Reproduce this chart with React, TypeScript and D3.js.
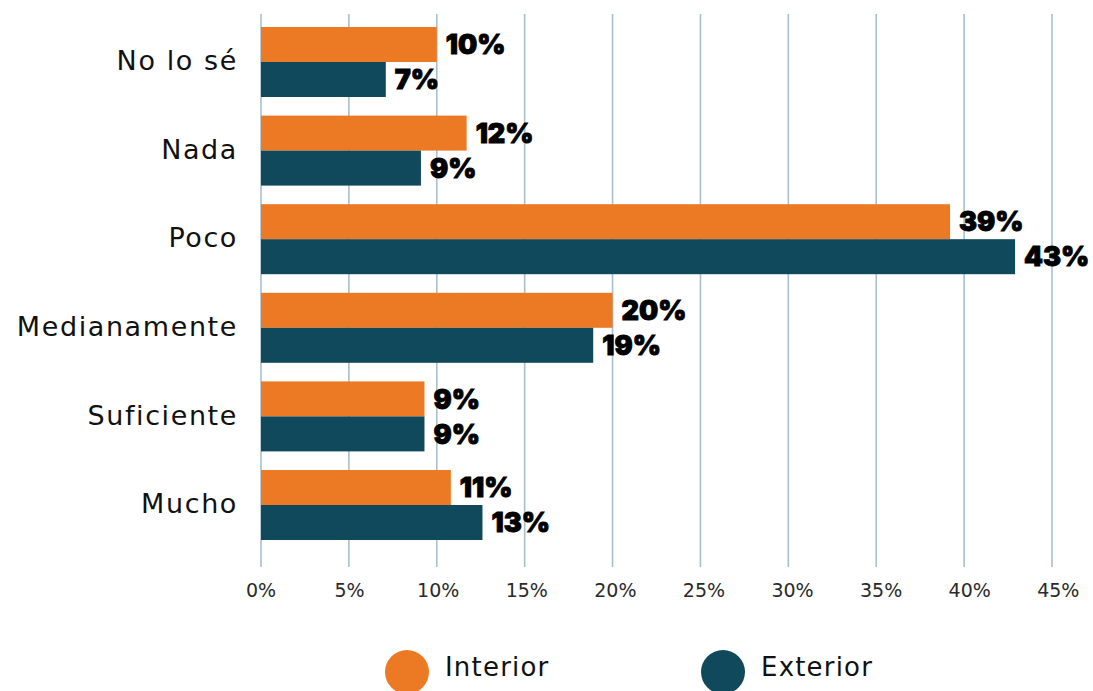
import React from "react";
import * as d3 from "d3";

const categories = ["No lo sé", "Nada", "Poco", "Medianamente", "Suficiente", "Mucho"];
const interiorValues = [10.0, 11.7, 39.2, 20.0, 9.3, 10.8];
const exteriorValues = [7.1, 9.1, 42.9, 18.9, 9.3, 12.6];
const interiorLabels = ["10%", "12%", "39%", "20%", "9%", "11%"];
const exteriorLabels = ["7%", "9%", "43%", "19%", "9%", "13%"];
const tickValues = [0, 5, 10, 15, 20, 25, 30, 35, 40, 45];
const seriesNames = ["Interior", "Exterior"];

const W = 1093;
const H = 691;
const ORANGE = "#EC7A25";
const TEAL = "#10495C";
const GRID = "#A9BFCB";
const catFont = "'DejaVu Sans', sans-serif";
const labelFont = "Inter, 'Roboto', sans-serif";

export default function App() {
  const x = d3.scaleLinear().domain([0, 45]).range([261, 1052]);
  const y = d3
    .scaleBand<string>()
    .domain(categories)
    .range([17.7, 549.3])
    .paddingInner(0.21)
    .paddingOuter(0.105);
  const bw = y.bandwidth();
  const sub = d3.scaleBand<string>().domain(seriesNames).range([0, bw]);
  const sh = sub.bandwidth();

  const series = [
    { name: "Interior", values: interiorValues, labels: interiorLabels, color: ORANGE },
    { name: "Exterior", values: exteriorValues, labels: exteriorLabels, color: TEAL },
  ];

  return (
    <svg
      width={W}
      height={H}
      style={{ position: "absolute", left: 0, top: 0, background: "#fff" }}
    >
      {tickValues.map((t) => (
        <line
          key={"g" + t}
          x1={x(t)}
          x2={x(t)}
          y1={14}
          y2={567}
          stroke={GRID}
          strokeWidth={1.6}
        />
      ))}
      {tickValues.map((t, i) => (
        <text
          key={"t" + t}
          x={x(t) + i * 0.7}
          y={597}
          textAnchor="middle"
          fontFamily={catFont}
          fontSize={19}
          fill="#2a2a2a"
        >
          {t + "%"}
        </text>
      ))}
      {series.map((s) =>
        categories.map((c, i) => (
          <rect
            key={s.name + c}
            x={x(0)}
            y={(y(c) as number) + (sub(s.name) as number)}
            width={x(s.values[i]) - x(0)}
            height={sh}
            fill={s.color}
          />
        ))
      )}
      {series.map((s) =>
        categories.map((c, i) => (
          <text
            key={"l" + s.name + c}
            x={x(s.values[i]) + 9}
            y={(y(c) as number) + (sub(s.name) as number) + sh / 2}
            dy="0.36em"
            fontFamily={labelFont}
            fontWeight={900}
            fontSize={27}
            fill="#000"
            stroke="#000"
            strokeWidth={0.9}
          >
            {s.labels[i]}
          </text>
        ))
      )}
      {categories.map((c) => (
        <text
          key={"c" + c}
          x={238}
          y={(y(c) as number) + bw / 2}
          dy="0.3em"
          textAnchor="end"
          fontFamily={catFont}
          fontSize={27}
          letterSpacing={1.6}
          fill="#111"
        >
          {c}
        </text>
      ))}
      {series.map((s, i) => {
        const cx = i === 0 ? 407 : 723;
        return (
          <g key={"leg" + s.name}>
            <circle cx={cx} cy={672} r={22} fill={s.color} />
            <text
              x={cx + 38}
              y={667}
              dy="0.36em"
              fontFamily={catFont}
              fontSize={26}
              letterSpacing={1.2}
              fill="#111"
            >
              {s.name}
            </text>
          </g>
        );
      })}
    </svg>
  );
}
